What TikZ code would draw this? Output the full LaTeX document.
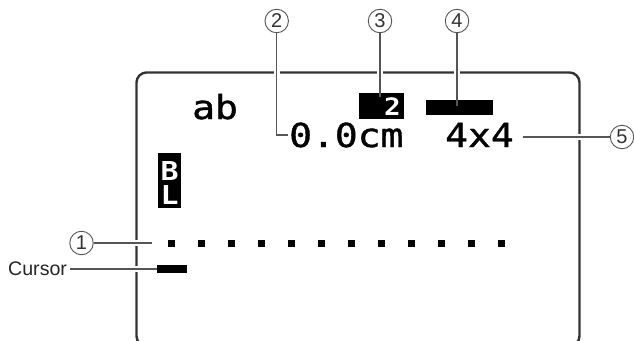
\documentclass[tikz,border=0pt]{standalone}
\usepackage{fontspec}
\setmainfont{Liberation Sans}
\newfontfamily\lcd[FakeStretch=1.15,FakeBold=1.2]{DejaVu Sans Mono}
\newfontfamily\lcdb[FakeStretch=1.15]{DejaVu Sans Mono Bold}
\definecolor{framec}{HTML}{333333}
\definecolor{leadc}{HTML}{555555}
\tikzset{
  x=1pt,y=-1pt,
  frameline/.style={draw=framec,line width=2.4pt,rounded corners=10pt},
  halo/.style={draw=white,line width=6pt},
  leader/.style={draw=leadc,line width=1.2pt},
  callout/.style={circle,draw=leadc,line width=0.9pt,fill=white,minimum size=23.5pt,inner sep=0pt,
    font=\fontsize{20}{20}\selectfont,text=black!80},
  lcdtext/.style={anchor=base west,inner sep=0pt,font=\fontsize{33}{33}\lcd,text=black},
  invtext/.style={anchor=base,inner sep=0pt,font=\fontsize{26}{26}\lcdb,text=white},
  blk/.style={fill=black,draw=none,inner sep=0pt}
}
\begin{document}
\begin{tikzpicture}
\useasboundingbox (0,0) rectangle (634,340);
\begin{scope}
\clip (0,0) rectangle (634,340);
\draw[frameline] (136.5,72.5) rectangle (579.5,346);
\end{scope}
% LCD content
\node[lcdtext] (ab) at (192,119) {ab};
\node[lcdtext] (dist) at (289,147) {0.0cm};
\node[lcdtext] (size) at (445,147) {4x4};
\node[blk,minimum width=45pt,minimum height=26pt] (box3) at (381.5,106) {};
\node[invtext,font=\fontsize{24}{24}\lcdb] (two) at (392.5,115) {2};
\node[blk,minimum width=67pt,minimum height=15pt] (bar4) at (459.5,107.5) {};
\node[blk,minimum width=23pt,minimum height=55pt] (boxbl) at (169.5,180.5) {};
\node[invtext] (letB) at (169.5,180) {B};
\node[invtext] (letL) at (169.5,204) {L};
\foreach \i in {0,...,11} \node[blk,minimum width=7pt,minimum height=7pt] (dot\i) at (171.5+30*\i,243) {};
\node[blk,minimum width=30pt,minimum height=8pt] (cursorbar) at (172,269) {};
% callouts
\node[callout] (n1) at (81.5,243) {1};
\node[callout] (n2) at (276.7,21) {2};
\node[callout] (n3) at (380,21) {3};
\node[callout] (n4) at (457,21) {4};
\node[callout] (n5) at (622,137) {5};
\node[anchor=base west,inner sep=0pt,font=\fontsize{19.6}{20}\selectfont,text=black!85] (cursorlabel) at (8,275) {Cursor};
\coordinate (e1) at (152,243);
\coordinate (e2) at (288,135);
\coordinate (e3) at (380,97);
\coordinate (e4) at (457,106);
\coordinate (e5) at (523,137);
\coordinate (e6) at (70,269);
% gaps in frame
\draw[halo] (136.5,240) -- (136.5,246);
\draw[halo] (136.5,266) -- (136.5,272);
\draw[halo] (274,72.5) -- (280,72.5);
\draw[halo] (377,72.5) -- (383,72.5);
\draw[halo] (454,72.5) -- (460,72.5);
\draw[halo] (579.5,134) -- (579.5,140);
% leaders
\draw[leader] (n1) -- (e1);
\draw[leader] (n2) |- (e2);
\draw[leader] (n3) -- (e3);
\draw[leader] (n4) -- (e4);
\draw[leader] (n5) -- (e5);
\draw[leader] (e6) -- (cursorbar.west);
\end{tikzpicture}
\end{document}
